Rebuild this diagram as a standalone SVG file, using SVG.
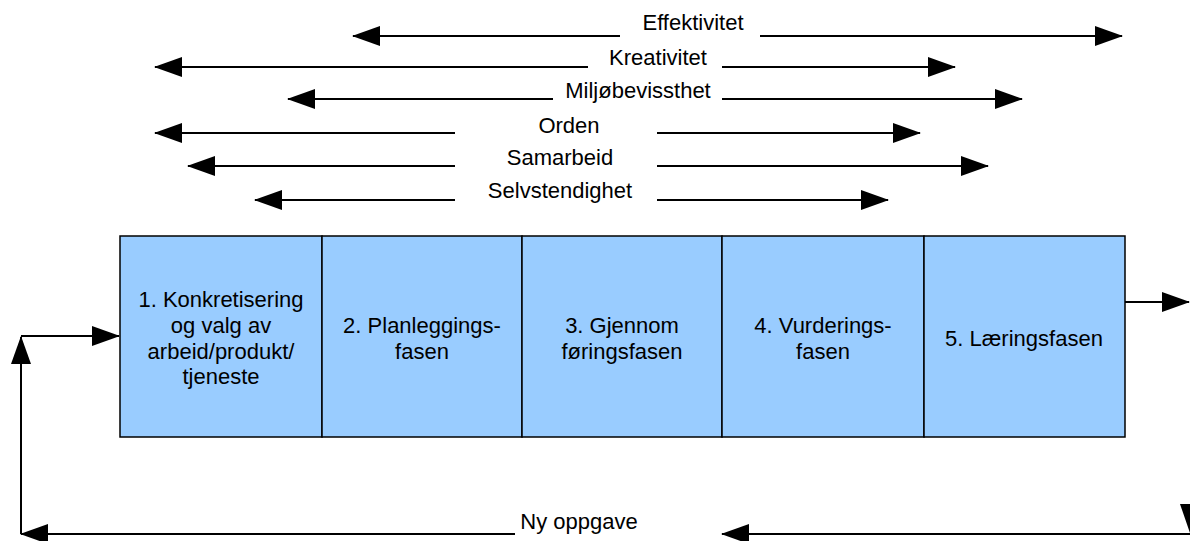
<svg xmlns="http://www.w3.org/2000/svg" width="1190" height="541" viewBox="0 0 1190 541">
<defs>
<marker id="ah" viewBox="0 0 28 20" refX="27" refY="10" markerWidth="28" markerHeight="20" markerUnits="userSpaceOnUse" orient="auto-start-reverse">
<path d="M0,0 L28,10 L0,20 z" fill="#000"/>
</marker>
<style>
.ln{stroke:#000;stroke-width:2;fill:none}
.box{fill:#99ccff;stroke:#000;stroke-width:1.5}
.t{font-family:"Liberation Sans",Arial,sans-serif;font-size:22px;fill:#000;text-anchor:middle}
</style>
</defs>
<rect width="1190" height="541" fill="#fff"/>
<g id="connectors">
<line class="ln" x1="353" y1="36" x2="620" y2="36" marker-start="url(#ah)"/>
<line class="ln" x1="760" y1="36" x2="1122" y2="36" marker-end="url(#ah)"/>
<line class="ln" x1="155" y1="67" x2="588" y2="67" marker-start="url(#ah)"/>
<line class="ln" x1="722" y1="67" x2="955" y2="67" marker-end="url(#ah)"/>
<line class="ln" x1="288" y1="99" x2="553" y2="99" marker-start="url(#ah)"/>
<line class="ln" x1="722" y1="99" x2="1022" y2="99" marker-end="url(#ah)"/>
<line class="ln" x1="155" y1="133" x2="455" y2="133" marker-start="url(#ah)"/>
<line class="ln" x1="657" y1="133" x2="920" y2="133" marker-end="url(#ah)"/>
<line class="ln" x1="188" y1="166" x2="455" y2="166" marker-start="url(#ah)"/>
<line class="ln" x1="657" y1="166" x2="988" y2="166" marker-end="url(#ah)"/>
<line class="ln" x1="255" y1="200" x2="455" y2="200" marker-start="url(#ah)"/>
<line class="ln" x1="657" y1="200" x2="888" y2="200" marker-end="url(#ah)"/>
<line class="ln" x1="1125" y1="302" x2="1189" y2="302" marker-end="url(#ah)"/>
<path class="ln" d="M21,534 L21,337" marker-end="url(#ah)"/>
<line class="ln" x1="21" y1="336" x2="119" y2="336" marker-end="url(#ah)"/>
<line class="ln" x1="21" y1="534" x2="515" y2="534" marker-start="url(#ah)"/>
<line class="ln" x1="722" y1="534" x2="1190" y2="534" marker-start="url(#ah)"/>
<polygon points="1180,504 1200,504 1190,533" fill="#000"/>
</g>
<g id="labels">
<text class="t" x="693" y="30">Effektivitet</text>
<text class="t" x="658" y="65">Kreativitet</text>
<text class="t" x="638" y="98">Miljøbevissthet</text>
<text class="t" x="569" y="133">Orden</text>
<text class="t" x="560" y="165">Samarbeid</text>
<text class="t" x="560" y="198">Selvstendighet</text>
<text class="t" x="579" y="529">Ny oppgave</text>
</g>
<g id="node1">
<rect class="box" x="120" y="236" width="202" height="201"/>
<text class="t" x="221" y="307">1. Konkretisering</text>
<text class="t" x="221" y="333">og valg av</text>
<text class="t" x="221" y="359">arbeid/produkt/</text>
<text class="t" x="221" y="384">tjeneste</text>
</g>
<g id="node2">
<rect class="box" x="322" y="236" width="200" height="201"/>
<text class="t" x="422" y="333">2. Planleggings-</text>
<text class="t" x="422" y="359">fasen</text>
</g>
<g id="node3">
<rect class="box" x="522" y="236" width="200" height="201"/>
<text class="t" x="622" y="333">3. Gjennom</text>
<text class="t" x="622" y="359">føringsfasen</text>
</g>
<g id="node4">
<rect class="box" x="722" y="236" width="202" height="201"/>
<text class="t" x="823" y="333">4. Vurderings-</text>
<text class="t" x="823" y="359">fasen</text>
</g>
<g id="node5">
<rect class="box" x="924" y="236" width="201" height="201"/>
<text class="t" x="1024" y="346">5. Læringsfasen</text>
</g>
</svg>
